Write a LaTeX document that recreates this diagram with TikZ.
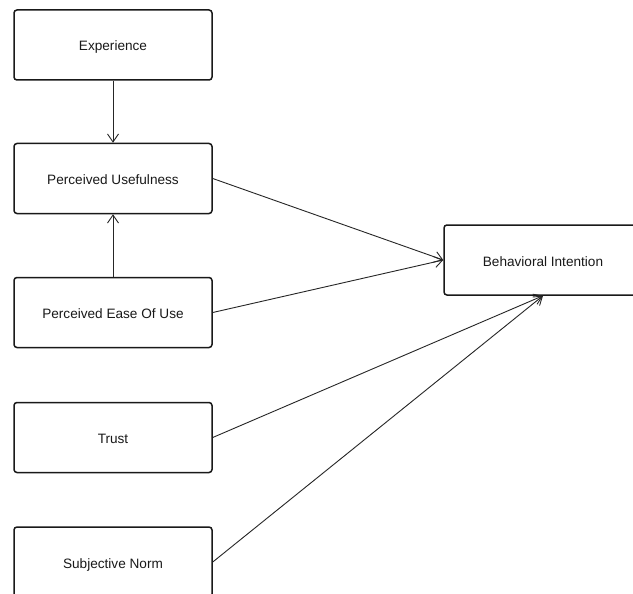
\documentclass[tikz,border=0pt]{standalone}
\usepackage{fontspec}
\setmainfont{Liberation Sans}
\usetikzlibrary{arrows.meta}
\begin{document}
\begin{tikzpicture}[x=1pt,y=-1pt,
  construct/.style={draw=black!90, line width=1.5pt, rounded corners=3pt,
    minimum width=198pt, minimum height=70pt, inner sep=0pt,
    text height=12pt, text depth=0pt,
    font=\fontsize{13.6}{16}\selectfont, text=black!90},
  link/.style={draw=black!85, line width=0.9pt,
    -{Straight Barb[length=8pt,width=11pt,line width=0.9pt]}}]
  \useasboundingbox[fill=white] (0,0) rectangle (633,594);
  % left column of constructs
  \node[construct] (exp)  at (113,45)    {Experience};
  \node[construct] (pu)   at (113,178.5) {Perceived Usefulness};
  \node[construct] (peou) at (113,312.5) {Perceived Ease Of Use};
  \node[construct] (tr)   at (113,437.5) {Trust};
  \node[construct] (sn)   at (113,562)   {Subjective Norm};
  % outcome
  \node[construct] (bi)   at (543,260)   {Behavioral Intention};
  % paths
  \draw[link] (exp.south) -- (pu.north);
  \draw[link] (peou.north) -- (pu.south);
  \draw[link] (pu.east) -- (bi.west);
  \draw[link] (peou.east) -- (bi.west);
  \draw[link] (tr.east) -- (bi.south);
  \draw[link] (sn.east) -- (bi.south);
\end{tikzpicture}
\end{document}
